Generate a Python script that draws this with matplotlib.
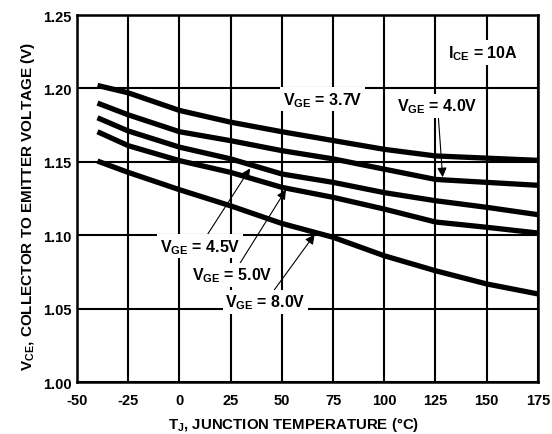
import matplotlib
matplotlib.use("Agg")
import matplotlib.pyplot as plt

plt.rcParams['font.family'] = ['Liberation Sans', 'DejaVu Sans']
plt.rcParams['font.weight'] = 'bold'
plt.rcParams['axes.unicode_minus'] = False
plt.rcParams['mathtext.fontset'] = 'custom'
plt.rcParams['mathtext.rm'] = 'Liberation Sans:bold'
plt.rcParams['mathtext.bf'] = 'Liberation Sans:bold'
plt.rcParams['mathtext.it'] = 'Liberation Sans:bold'
plt.rcParams['mathtext.default'] = 'bf'

# junction temperature (C) and VCE curves for each VGE
tj = [-40, -25, 0, 25, 50, 75, 100, 125, 150, 175]
vce_37 = [1.202, 1.197, 1.185, 1.177, 1.1705, 1.1645, 1.1585, 1.154, 1.1525, 1.151]
vce_40 = [1.190, 1.182, 1.1705, 1.1644, 1.1576, 1.152, 1.145, 1.138, 1.136, 1.134]
vce_45 = [1.180, 1.171, 1.160, 1.152, 1.1417, 1.136, 1.129, 1.1235, 1.119, 1.114]
vce_50 = [1.1705, 1.161, 1.1508, 1.1428, 1.1326, 1.1258, 1.1178, 1.109, 1.1054, 1.1015]
vce_80 = [1.1505, 1.1428, 1.131, 1.120, 1.108, 1.0986, 1.086, 1.0758, 1.0668, 1.060]

x_ticks = [-50, -25, 0, 25, 50, 75, 100, 125, 150, 175]
y_ticks = [1.00, 1.05, 1.10, 1.15, 1.20, 1.25]

fig = plt.figure(figsize=(5.52, 4.35), dpi=100)
ax = fig.add_axes([0.1395, 0.1195, 0.835, 0.8437])

for vals in [vce_37, vce_40, vce_45, vce_50, vce_80]:
    ax.plot(tj, vals, color='black', lw=3.8, solid_capstyle='butt', zorder=3)

ax.set_xlim(-50, 175)
ax.set_ylim(1.00, 1.25)
ax.set_xticks(x_ticks)
ax.set_yticks(y_ticks)
ax.set_yticklabels([f"{v:.2f}" for v in y_ticks])
ax.grid(True, color='black', lw=1.5, zorder=1)
ax.tick_params(length=0, labelsize=10.5)
ax.tick_params(axis='x', pad=8)
ax.tick_params(axis='y', pad=4)
for s in ax.spines.values():
    s.set_linewidth(1.8)

ax.set_xlabel(r"T$_{J}$, JUNCTION TEMPERATURE (°C)", fontsize=10.8, fontweight='bold', labelpad=6)
ax.set_ylabel(r"V$_{CE}$, COLLECTOR TO EMITTER VOLTAGE (V)", fontsize=11, fontweight='bold', labelpad=4)
ax.xaxis.label.set_x(0.469)
ax.yaxis.label.set_y(0.48)

box = dict(facecolor='white', edgecolor='none', pad=2)
arrow = dict(arrowstyle='-|>', color='black', lw=0.8, mutation_scale=14, shrinkA=0, shrinkB=0)
fs = 11.5

ax.text(148, 1.2245, r"I$_{CE}$ = 10A", fontsize=fs, ha='center', va='center', bbox=box, zorder=5)
ax.text(70, 1.1925, r"V$_{GE}$ = 3.7V", fontsize=fs, ha='center', va='center', bbox=box, zorder=5)

ax.annotate(r"V$_{GE}$ = 4.0V", xy=(128.5, 1.1395), xytext=(126, 1.188),
            fontsize=fs, ha='center', va='center', bbox=box, zorder=5,
            arrowprops=arrow)
ax.annotate(r"V$_{GE}$ = 4.5V", xy=(34.5, 1.1455), xytext=(10, 1.0925),
            fontsize=fs, ha='center', va='center', bbox=box, zorder=5,
            arrowprops=arrow)
ax.annotate(r"V$_{GE}$ = 5.0V", xy=(52, 1.131), xytext=(26, 1.073),
            fontsize=fs, ha='center', va='center', bbox=box, zorder=5,
            arrowprops=arrow)
ax.annotate(r"V$_{GE}$ = 8.0V", xy=(66, 1.1005), xytext=(42, 1.0545),
            fontsize=fs, ha='center', va='center', bbox=box, zorder=5,
            arrowprops=arrow)

fig.savefig("out.png", dpi=100)
